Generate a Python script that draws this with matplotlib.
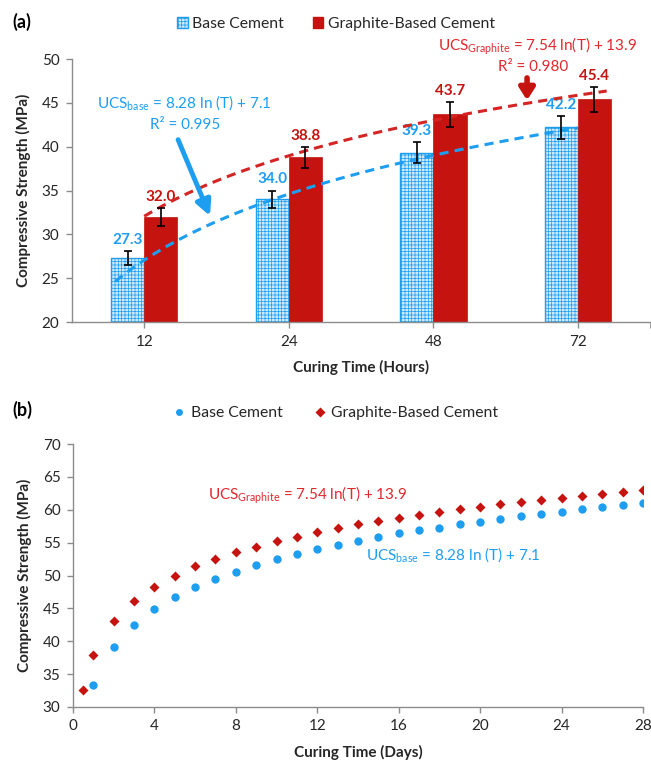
import numpy as np
import matplotlib
matplotlib.use("Agg")
import matplotlib.pyplot as plt
from matplotlib.patches import Patch
from matplotlib.lines import Line2D

plt.rcParams['font.family'] = ['Lato', 'DejaVu Sans']
plt.rcParams['mathtext.fontset'] = 'custom'
plt.rcParams['mathtext.rm'] = 'Lato'
plt.rcParams['mathtext.it'] = 'Lato:italic'
plt.rcParams['mathtext.bf'] = 'Lato:bold'
plt.rcParams['hatch.linewidth'] = 0.5

# (a) bar data
hours = ["12", "24", "48", "72"]
base_ucs = [27.3, 34.0, 39.3, 42.2]
base_err = [0.8, 1.0, 1.2, 1.3]
graph_ucs = [32.0, 38.8, 43.7, 45.4]
graph_err = [1.0, 1.2, 1.4, 1.4]

# (b) scatter data (days)
base_days = list(range(1, 29))
base_pred = [33.4, 39.2, 42.5, 44.9, 46.7, 48.2, 49.5, 50.6, 51.6, 52.5,
             53.3, 54.0, 54.6, 55.3, 55.8, 56.4, 56.9, 57.3, 57.8, 58.2,
             58.6, 59.0, 59.4, 59.7, 60.1, 60.4, 60.7, 61.0]
graph_days = [0.5] + list(range(1, 29))
graph_pred = [32.6, 37.9, 43.1, 46.1, 48.3, 50.0, 51.4, 52.5, 53.5, 54.4,
              55.2, 55.9, 56.6, 57.2, 57.8, 58.3, 58.8, 59.2, 59.7, 60.1,
              60.4, 60.8, 61.2, 61.5, 61.8, 62.1, 62.4, 62.7, 63.0]

BLUE = '#1E9EF0'
RED = '#C5130F'
RED_TXT = '#E0282D'
AX_COL = '#8C8C8C'
TXT = '#262626'
HATCH = '+++++'   # fine checker look for the base cement bars

fig = plt.figure(figsize=(6.51, 7.62), dpi=100)

def style_axes(ax):
    for s in ['top', 'right']:
        ax.spines[s].set_visible(False)
    for s in ['left', 'bottom']:
        ax.spines[s].set_color(AX_COL)
        ax.spines[s].set_linewidth(1.0)
    ax.tick_params(direction='out', length=4, color=AX_COL, labelsize=11,
                   labelcolor=TXT, width=1.0, pad=5)

# ---------------- (a) ----------------
ax1 = fig.add_axes([0.1106, 0.5774, 0.8879, 0.3451])
style_axes(ax1)
x = np.arange(1, len(hours) + 1)
w = 0.23
ax1.bar(x - w / 2, base_ucs, w, color='#cde9fc', edgecolor=BLUE, hatch=HATCH,
        linewidth=1.0, zorder=2)
ax1.bar(x + w / 2, graph_ucs, w, color=RED, edgecolor=RED, linewidth=0.5, zorder=2)
ax1.errorbar(x - w / 2, base_ucs, yerr=base_err, fmt='none', ecolor='black',
             elinewidth=1.2, capsize=3, capthick=1.2, zorder=4)
ax1.errorbar(x + w / 2, graph_ucs, yerr=graph_err, fmt='none', ecolor='black',
             elinewidth=1.2, capsize=3, capthick=1.2, zorder=4)
for xi, v, e in zip(x, base_ucs, base_err):
    ax1.annotate(f"{v:.1f}", (xi - w / 2, v + e), xytext=(0, 3),
                 textcoords='offset points', ha='center', va='bottom',
                 color=BLUE, fontsize=11, fontweight='bold')
for xi, v, e in zip(x, graph_ucs, graph_err):
    ax1.annotate(f"{v:.1f}", (xi + w / 2, v + e), xytext=(0, 3),
                 textcoords='offset points', ha='center', va='bottom',
                 color=RED, fontsize=11, fontweight='bold')

# log trendlines fitted on category index, like the spreadsheet did
bfit = np.polyfit(np.log(x), base_ucs, 1)
gfit = np.polyfit(np.log(x), graph_ucs, 1)
tb = np.linspace(0.8, 4.0, 100)
tg = np.linspace(1.0, 4.2, 100)
ax1.plot(tb, np.polyval(bfit, np.log(tb)), color=BLUE, lw=2.2, ls=(0, (3, 2)), zorder=3)
ax1.plot(tg, np.polyval(gfit, np.log(tg)), color='#D42424', lw=2.2, ls=(0, (3, 2)), zorder=3)

ax1.set_xlim(0.5, 4.5)
ax1.set_ylim(20, 50)
ax1.set_yticks(np.arange(20, 51, 5))
ax1.set_xticks(x)
ax1.set_xticklabels(hours)
ax1.set_xticks([4.5], minor=True)
ax1.tick_params(which='minor', direction='out', length=4, color=AX_COL)
ax1.set_xlabel("Curing Time (Hours)", fontsize=11, fontweight='bold', color=TXT, labelpad=8)
ax1.set_ylabel("Compressive Strength (MPa)", fontsize=11, fontweight='bold', color=TXT, labelpad=8)

ax1.text(1.28, 45.0, r"UCS$_{\mathrm{base}}$ = 8.28 ln (T) + 7.1", color=BLUE,
         fontsize=11, ha='center', va='center')
ax1.text(1.28, 42.5, "R² = 0.995", color=BLUE, fontsize=11, ha='center', va='center')
ax1.text(3.72, 51.45, r"UCS$_{\mathrm{Graphite}}$ = 7.54 ln(T) + 13.9", color=RED_TXT,
         fontsize=11, ha='center', va='center', clip_on=False)
ax1.text(3.69, 49.15, "R² = 0.980", color=RED_TXT, fontsize=11, ha='center', va='center')
ax1.annotate("", xy=(1.455, 32.1), xytext=(1.234, 40.8),
             arrowprops=dict(arrowstyle='-|>,head_width=0.45,head_length=0.9',
                             color=BLUE, lw=3.5, shrinkA=0, shrinkB=0))
ax1.annotate("", xy=(3.649, 45.3), xytext=(3.649, 47.85),
             arrowprops=dict(arrowstyle='-|>,head_width=0.45,head_length=0.7',
                             color=RED, lw=4, shrinkA=0, shrinkB=0))

fig.text(12 / 651, 1 - 22 / 762, "(a)", fontsize=13, fontweight='bold', va='center')
h1 = [Patch(facecolor='#cde9fc', edgecolor=BLUE, hatch=HATCH, label='Base Cement'),
      Patch(facecolor=RED, edgecolor=RED, label='Graphite-Based Cement')]
fig.legend(handles=h1, loc='center', bbox_to_anchor=(336 / 651, 1 - 24 / 762), ncol=2,
           frameon=False, fontsize=11.3, handlelength=0.7, handleheight=0.7,
           handletextpad=0.3, columnspacing=1.8, labelcolor=TXT)

# ---------------- (b) ----------------
ax2 = fig.add_axes([0.1121, 0.0722, 0.8756, 0.3451])
style_axes(ax2)
ax2.plot(base_days, base_pred, 'o', color=BLUE, ms=6, mec='none')
ax2.plot(graph_days, graph_pred, 'D', color=RED, ms=5.5, mec='none')
ax2.set_xlim(0, 28)
ax2.set_ylim(30, 70)
ax2.set_xticks(np.arange(0, 29, 4))
ax2.set_yticks(np.arange(30, 71, 5))
ax2.set_xlabel("Curing Time (Days)", fontsize=11, fontweight='bold', color=TXT, labelpad=8)
ax2.set_ylabel("Compressive Strength (MPa)", fontsize=11, fontweight='bold', color=TXT, labelpad=8)
ax2.text(11.54, 62.24, r"UCS$_{\mathrm{Graphite}}$ = 7.54 ln(T) + 13.9", color=RED_TXT,
         fontsize=11, ha='center', va='center')
ax2.text(18.69, 53.12, r"UCS$_{\mathrm{base}}$ = 8.28 ln (T) + 7.1", color=BLUE,
         fontsize=11, ha='center', va='center')

fig.text(12 / 651, 1 - 410 / 762, "(b)", fontsize=13, fontweight='bold', va='center')
h2 = [Line2D([], [], ls='none', marker='o', color=BLUE, ms=5, mec='none', label='Base Cement'),
      Line2D([], [], ls='none', marker='D', color=RED, ms=5, mec='none',
             label='Graphite-Based Cement')]
fig.legend(handles=h2, loc='center', bbox_to_anchor=(336 / 651, 1 - 413 / 762), ncol=2,
           frameon=False, fontsize=11.3, handlelength=0.7, handletextpad=0.4,
           columnspacing=2.0, labelcolor=TXT)

fig.savefig("out.png", dpi=100)
